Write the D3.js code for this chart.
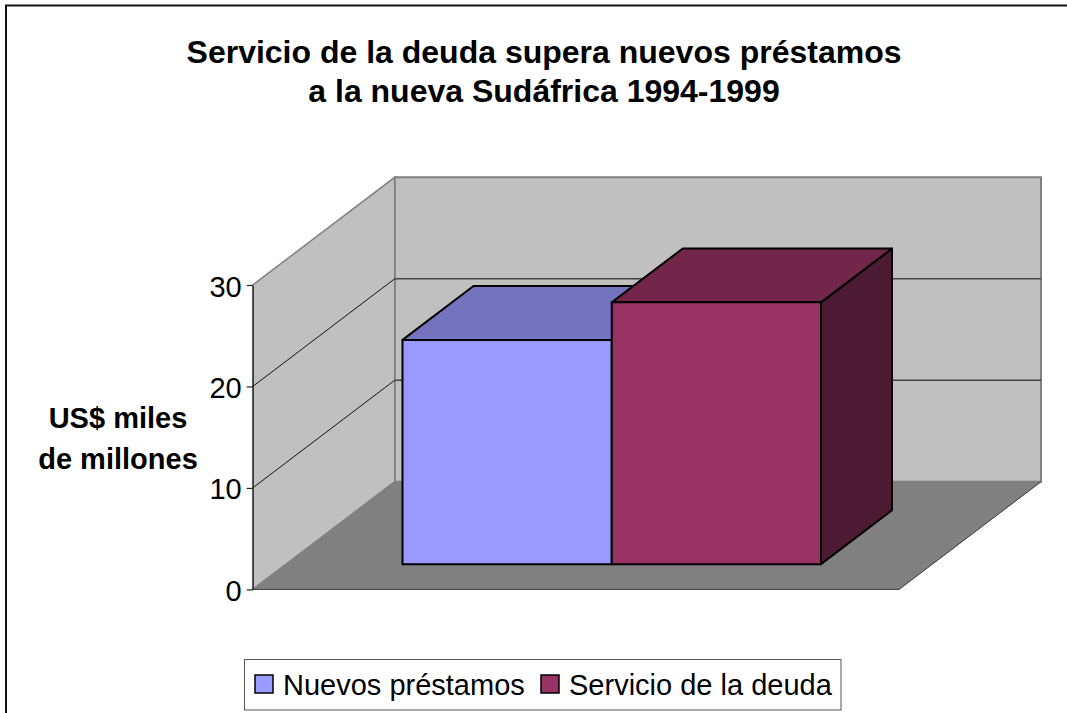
<!DOCTYPE html>
<html>
<head>
<meta charset="utf-8">
<script src="https://cdn.jsdelivr.net/npm/d3@7/dist/d3.min.js"></script>
<style>
  html, body { margin: 0; padding: 0; background: #fff; }
  svg { display: block; }
  text { font-family: "Liberation Sans", Arial, sans-serif; fill: #000; }
</style>
</head>
<body>
<svg id="chart" width="1067" height="713"></svg>
<script>
// Chart values
const titleLines = ["Servicio de la deuda supera nuevos préstamos", "a la nueva Sudáfrica 1994-1999"];
const axisLines = ["US$ miles", "de millones"];
const seriesNames = ["Nuevos préstamos", "Servicio de la deuda"];
const seriesValues = [22.1, 25.8];
const seriesColors = ["#9999ff", "#993366"];
const seriesTops = ["#7373bf", "#732649"];
const seriesSides = ["#4d4d80", "#4d1a33"];
const yTicks = [0, 10, 20, 30];

const svg = d3.select("#chart");

// Front plane of the box
const frontLeft = 252.7, frontRight = 899, frontBottom = 589.4, frontTop = 285;

// Depth goes from 0 (front) to 1 (back wall)
const depthX = d3.scaleLinear().domain([0, 1]).range([0, 142]);
const depthY = d3.scaleLinear().domain([0, 1]).range([0, -107.7]);
const y = d3.scaleLinear().domain([0, 30]).range([frontBottom, frontTop]);
const x = d3.scaleBand().domain(seriesNames).range([369.2, 787.7]);

// Projects a point (x, value, depth) on the screen
function pt(px, value, depth) {
    return [px + depthX(depth), y(value) + depthY(depth)];
}
const line = d3.line();
function face(points) {
    return line(points) + "Z";
}

// Outer frame, only top and left are in the picture
svg.append("path")
    .attr("d", "M6,713V5.5H1067")
    .attr("fill", "none")
    .attr("stroke", "#111")
    .attr("stroke-width", 2);

// Title
svg.append("g").selectAll("text")
    .data(titleLines)
    .enter()
    .append("text")
    .attr("x", 544)
    .attr("y", (d, i) => 63 + i * 39)
    .attr("text-anchor", "middle")
    .style("font-size", "32px")
    .style("font-weight", "bold")
    .text(d => d);

// Y axis title
svg.append("g").selectAll("text")
    .data(axisLines)
    .enter()
    .append("text")
    .attr("x", 118)
    .attr("y", (d, i) => 428 + i * 41)
    .attr("text-anchor", "middle")
    .style("font-size", "29px")
    .style("font-weight", "bold")
    .text(d => d);

// Walls and floor
svg.append("path")
    .attr("d", face([pt(frontLeft, 0, 1), pt(frontRight, 0, 1), pt(frontRight, 30, 1), pt(frontLeft, 30, 1)]))
    .attr("fill", "#c0c0c0").attr("stroke", "#808080").attr("stroke-width", 2);
svg.append("path")
    .attr("d", face([pt(frontLeft, 0, 0), pt(frontLeft, 0, 1), pt(frontLeft, 30, 1), pt(frontLeft, 30, 0)]))
    .attr("fill", "#c0c0c0").attr("stroke", "#808080").attr("stroke-width", 1.5);
svg.append("path")
    .attr("d", face([pt(frontLeft, 0, 0), pt(frontRight, 0, 0), pt(frontRight, 0, 1), pt(frontLeft, 0, 1)]))
    .attr("fill", "#808080").attr("stroke", "#808080").attr("stroke-width", 1);

// Gridlines on the side wall and back wall
const grid = svg.append("g");
yTicks.filter(d => d > 0 && d < 30).forEach(t => {
    grid.append("path")
        .attr("d", line([pt(frontLeft, t, 0), pt(frontLeft, t, 1)]))
        .attr("fill", "none")
        .attr("stroke", "#111")
        .attr("stroke-width", 1);
    grid.append("path")
        .attr("d", line([pt(frontLeft, t, 1), pt(frontRight, t, 1)]))
        .attr("fill", "none")
        .attr("stroke", "#444")
        .attr("stroke-width", 1.3);
});

// Floor front edge and right edge
svg.append("path")
    .attr("d", line([pt(frontLeft, 0, 0), pt(frontRight, 0, 0), pt(frontRight, 0, 1)]))
    .attr("fill", "none").attr("stroke", "#444").attr("stroke-width", 1);

// Y axis
const yAxis = d3.axisLeft(y).tickValues(yTicks).tickSize(6).tickPadding(5).tickSizeOuter(0);
const axisG = svg.append("g").attr("transform", "translate(" + frontLeft + ",0)").call(yAxis);
axisG.selectAll("text").attr("dy", "0.38em").style("font-size", "29px");
axisG.selectAll("line, path").attr("stroke", "#222").attr("stroke-width", 1.2);

// Bars, each one has front, top and side faces
const barFront = 0.2345, barBack = 0.7345;
const bars = svg.append("g").selectAll("g")
    .data(seriesNames)
    .enter()
    .append("g")
    .attr("stroke", "#000")
    .attr("stroke-width", 2)
    .attr("stroke-linejoin", "round");

bars.append("path")
    .attr("fill", (d, i) => seriesSides[i])
    .attr("d", (d, i) => {
        let r = x(d) + x.bandwidth();
        return face([pt(r, 0, barFront), pt(r, 0, barBack), pt(r, seriesValues[i], barBack), pt(r, seriesValues[i], barFront)]);
    });
bars.append("path")
    .attr("fill", (d, i) => seriesTops[i])
    .attr("d", (d, i) => {
        let l = x(d), r = l + x.bandwidth();
        return face([pt(l, seriesValues[i], barFront), pt(r, seriesValues[i], barFront), pt(r, seriesValues[i], barBack), pt(l, seriesValues[i], barBack)]);
    });
bars.append("path")
    .attr("fill", (d, i) => seriesColors[i])
    .attr("d", (d, i) => {
        let l = x(d), r = l + x.bandwidth();
        return face([pt(l, 0, barFront), pt(r, 0, barFront), pt(r, seriesValues[i], barFront), pt(l, seriesValues[i], barFront)]);
    });

// Legend
svg.append("rect")
    .attr("x", 244.5).attr("y", 659.5)
    .attr("width", 596.5).attr("height", 50.5)
    .attr("fill", "#fff").attr("stroke", "#555").attr("stroke-width", 1);

const legendX = [255, 541];
const legend = svg.append("g").selectAll("g")
    .data(seriesNames)
    .enter()
    .append("g")
    .attr("transform", (d, i) => "translate(" + legendX[i] + ",675)");
legend.append("rect")
    .attr("width", 18).attr("height", 18)
    .attr("fill", (d, i) => seriesColors[i])
    .attr("stroke", "#000").attr("stroke-width", 1.5);
legend.append("text")
    .attr("x", 28).attr("y", 20)
    .style("font-size", "29px")
    .text(d => d);
</script>
</body>
</html>
